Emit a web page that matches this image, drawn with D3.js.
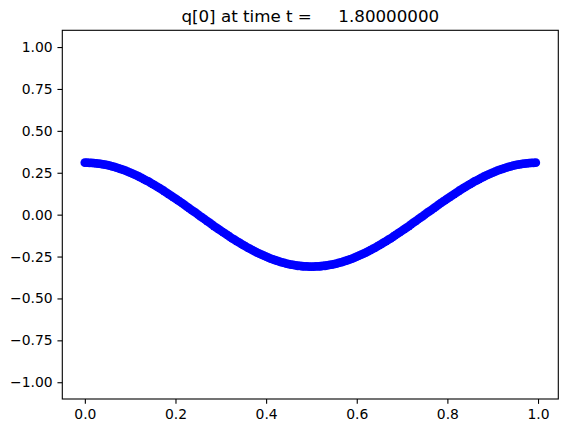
<!DOCTYPE html>
<html>
<head>
<meta charset="utf-8">
<script src="https://cdn.jsdelivr.net/npm/d3@7"></script>
<style>
  html, body { margin: 0; padding: 0; background: #fff; }
  svg { display: block; }
  text { font-family: "DejaVu Sans", sans-serif; fill: #000; }
</style>
</head>
<body>
<svg id="chart" width="568" height="433"></svg>
<script>
// ---- data ----
const titleText = "q[0] at time t =     1.80000000";
const gridStart = 0.0;
const gridStep = 0.005;
const qValues = [
  0.310,0.310,0.309,0.309,0.308,0.306,0.305,0.303,0.300,0.298,
  0.295,0.292,0.288,0.285,0.281,0.276,0.272,0.267,0.262,0.256,
  0.251,0.245,0.239,0.233,0.226,0.219,0.212,0.205,0.198,0.190,
  0.182,0.174,0.166,0.158,0.149,0.141,0.132,0.123,0.114,0.105,
  0.096,0.086,0.077,0.068,0.058,0.048,0.039,0.029,0.019,0.010,
  0.000,
  -0.010,-0.019,-0.029,-0.039,-0.048,-0.058,-0.068,-0.077,-0.086,-0.096,
  -0.105,-0.114,-0.123,-0.132,-0.141,-0.149,-0.158,-0.166,-0.174,-0.182,
  -0.190,-0.198,-0.205,-0.212,-0.219,-0.226,-0.233,-0.239,-0.245,-0.251,
  -0.256,-0.262,-0.267,-0.272,-0.276,-0.281,-0.285,-0.288,-0.292,-0.295,
  -0.298,-0.300,-0.303,-0.305,-0.306,-0.308,-0.309,-0.309,-0.310,-0.310,
  -0.310,-0.309,-0.309,-0.308,-0.306,-0.305,-0.303,-0.300,-0.298,-0.295,
  -0.292,-0.288,-0.285,-0.281,-0.276,-0.272,-0.267,-0.262,-0.256,-0.251,
  -0.245,-0.239,-0.233,-0.226,-0.219,-0.212,-0.205,-0.198,-0.190,-0.182,
  -0.174,-0.166,-0.158,-0.149,-0.141,-0.132,-0.123,-0.114,-0.105,-0.096,
  -0.086,-0.077,-0.068,-0.058,-0.048,-0.039,-0.029,-0.019,-0.010,
  0.000,0.010,0.019,0.029,0.039,0.048,0.058,0.068,0.077,0.086,
  0.096,0.105,0.114,0.123,0.132,0.141,0.149,0.158,0.166,0.174,
  0.182,0.190,0.198,0.205,0.212,0.219,0.226,0.233,0.239,0.245,
  0.251,0.256,0.262,0.267,0.272,0.276,0.281,0.285,0.288,0.292,
  0.295,0.298,0.300,0.303,0.305,0.306,0.308,0.309,0.309,0.310
];
const xTicks = [0.0, 0.2, 0.4, 0.6, 0.8, 1.0];
const yTicks = [-1.00, -0.75, -0.50, -0.25, 0.00, 0.25, 0.50, 0.75, 1.00];
const yLimits = [-1.1, 1.1];

// ---- layout ----
const svg = d3.select("#chart");
const L = 62.3, R = 558.3, T = 30.3, B = 399;

const xs = qValues.map((_, i) => gridStart + i * gridStep);
const points = qValues.map((q, i) => ({ x: xs[i], q }));

const xmin = d3.min(xs), xmax = d3.max(xs);
const pad = (xmax - xmin) * 0.05;
const x = d3.scaleLinear().domain([xmin - pad, xmax + pad]).range([L, R]);
const y = d3.scaleLinear().domain(yLimits).range([B, T]);

const fmtY = v => d3.format(".2f")(v).replace("-", "\u2212");
const fmtX = v => d3.format(".1f")(v).replace("-", "\u2212");

// clip for data
svg.append("clipPath").attr("id", "clip")
  .append("rect").attr("x", L).attr("y", T).attr("width", R - L).attr("height", B - T);

// markers
svg.append("g").attr("clip-path", "url(#clip)")
  .selectAll("circle").data(points).join("circle")
  .attr("cx", d => x(d.x))
  .attr("cy", d => y(d.q))
  .attr("r", 4.4)
  .attr("fill", "#0000ff");

// axes
const xAxis = d3.axisBottom(x).tickValues(xTicks).tickFormat(fmtX).tickSizeInner(4.86).tickSizeOuter(0).tickPadding(4.86);
const yAxis = d3.axisLeft(y).tickValues(yTicks).tickFormat(fmtY).tickSizeInner(4.86).tickSizeOuter(0).tickPadding(4.86);

const gx = svg.append("g").attr("transform", `translate(0,${B})`).call(xAxis);
const gy = svg.append("g").attr("transform", `translate(${L},0)`).call(yAxis);
[gx, gy].forEach(g => {
  g.select(".domain").remove();
  g.selectAll(".tick line").attr("stroke", "#000").attr("stroke-width", 1.1);
  g.selectAll(".tick text").style("font-family", "'DejaVu Sans', sans-serif").style("font-size", "13.9px").attr("fill", "#000");
});

// frame (spines)
svg.append("rect")
  .attr("x", L).attr("y", T).attr("width", R - L).attr("height", B - T)
  .attr("fill", "none").attr("stroke", "#000").attr("stroke-width", 1.1);

// title
svg.append("text")
  .attr("x", (L + R) / 2).attr("y", T - 8.3)
  .attr("text-anchor", "middle")
  .style("font-size", "16.7px")
  .style("white-space", "pre")
  .attr("xml:space", "preserve")
  .text(titleText);
</script>
</body>
</html>
